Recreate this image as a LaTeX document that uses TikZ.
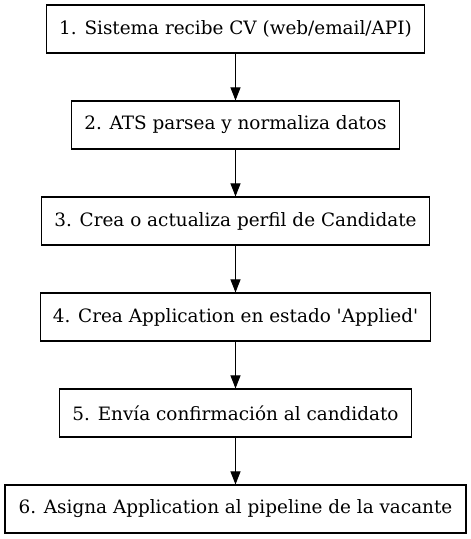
\documentclass[tikz,border=0pt]{standalone}
\usepackage{fontspec}
\setmainfont{DejaVu Serif}[Ligatures=TeXOff]
\usetikzlibrary{arrows.meta}
\begin{document}
\begin{tikzpicture}[x=1pt,y=1pt,
  stepbox/.style={draw, line width=1.1pt, minimum height=48pt, inner sep=0pt, font=\fontsize{18.4}{22}\selectfont},
  conn/.style={line width=1.1pt, -{Triangle[length=13pt,width=10pt]}}]
\useasboundingbox (0,0) rectangle (471,539);
\node[stepbox, minimum width=377.7pt] (s1) at (235.5,510) {1. Sistema recibe CV (web/email/API)};
\node[stepbox, minimum width=328.3pt] (s2) at (235.5,414) {2. ATS parsea y normaliza datos};
\node[stepbox, minimum width=387.3pt] (s3) at (235.5,318) {3. Crea o actualiza perfil de Candidate};
\node[stepbox, minimum width=390.7pt] (s4) at (235.5,222) {4. Crea Application en estado 'Applied'};
\node[stepbox, minimum width=351.3pt] (s5) at (235.5,126) {5. Envía confirmación al candidato};
\node[stepbox, minimum width=461pt] (s6) at (235.5,30) {6. Asigna Application al pipeline de la vacante};
\draw[conn] (s1) -- (s2);
\draw[conn] (s2) -- (s3);
\draw[conn] (s3) -- (s4);
\draw[conn] (s4) -- (s5);
\draw[conn] (s5) -- (s6);
\end{tikzpicture}
\end{document}
